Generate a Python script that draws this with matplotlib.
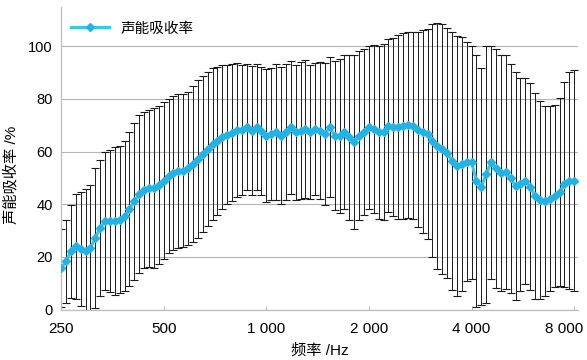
import matplotlib
matplotlib.use("Agg")  # no display
import matplotlib.pyplot as plt
from matplotlib.ticker import FixedLocator, FixedFormatter, NullLocator
from matplotlib.transforms import ScaledTranslation

plt.rcParams["font.family"] = ["Liberation Sans", "Noto Sans CJK SC", "DejaVu Sans"]

# 1/21-octave centre frequencies, 250 Hz .. 8 kHz
freqs = [
    250.0, 258.4, 267.1, 276.0, 285.3, 294.9, 304.7, 315.0, 325.6, 336.5, 347.8,
    359.4, 371.5, 384.0, 396.9, 410.2, 423.9, 438.2, 452.9, 468.1, 483.8,
    500.0, 516.8, 534.1, 552.0, 570.6, 589.7, 609.5, 630.0, 651.1, 673.0, 695.5,
    718.9, 743.0, 767.9, 793.7, 820.3, 847.9, 876.3, 905.7, 936.1, 967.5,
    1000.0, 1033.6, 1068.2, 1104.1, 1141.1, 1179.4, 1219.0, 1259.9, 1302.2, 1345.9, 1391.1,
    1437.7, 1486.0, 1535.9, 1587.4, 1640.7, 1695.7, 1752.6, 1811.4, 1872.2, 1935.1,
    2000.0, 2067.1, 2136.5, 2208.2, 2282.3, 2358.9, 2438.0, 2519.8, 2604.4, 2691.8, 2782.1,
    2875.5, 2972.0, 3071.7, 3174.8, 3281.3, 3391.5, 3505.3, 3622.9, 3744.5, 3870.1,
    4000.0, 4134.2, 4273.0, 4416.3, 4564.5, 4717.7, 4876.0, 5039.7, 5208.8, 5383.6, 5564.3,
    5750.9, 5943.9, 6143.4, 6349.6, 6562.6, 6782.9, 7010.5, 7245.8, 7488.9, 7740.2, 8000.0,
]

# mean absorption (%) and its standard deviation
absorption = [
    15.8, 18.3, 22.1, 24.0, 23.0, 22.4, 23.4, 27.2, 31.0, 33.6, 33.6,
    33.8, 34.2, 35.5, 38.3, 41.2, 43.8, 45.4, 46.0, 46.2, 47.2,
    48.9, 50.8, 51.8, 52.7, 52.7, 53.6, 55.3, 57.2, 59.1, 61.0,
    62.8, 64.2, 65.5, 66.5, 67.2, 68.3,
    68.3, 69.3, 68.0, 69.3, 68.0, 66.1, 66.7, 67.4, 66.1, 67.4,
    69.3, 67.4, 68.0, 68.6, 67.4, 68.6, 68.0, 66.7, 69.3, 66.1,
    65.9, 67.4, 65.5, 63.6, 66.1, 67.4, 69.3, 68.6, 67.4, 67.6,
    69.9, 69.3, 69.3, 69.9, 70.2, 69.9, 68.4, 67.6, 66.7, 64.2, 62.3,
    61.0, 59.5, 56.5, 54.6, 55.3, 56.1, 55.9, 48.9, 46.7, 51.4,
    55.9, 53.6, 51.8, 52.3, 49.8, 47.0, 47.6, 48.9, 46.7, 43.1,
    41.6, 41.2, 42.1, 43.1, 44.7, 47.6, 48.9, 48.9,
]
absorption_sd = [
    15.0, 15.9, 17.8, 20.0, 21.5, 23.5, 24.0, 26.5, 26.0, 26.1,
    27.1, 28.1, 28.0, 28.5, 29.2, 29.8, 30.0, 29.7, 29.7, 30.5,
    30.0, 29.8, 29.3, 29.2, 29.2, 29.1, 29.1, 29.7, 29.9, 29.8,
    29.3, 28.9, 28.1, 27.3, 26.3, 26.0, 25.5, 24.6, 24.0, 24.5,
    24.0, 24.3, 25.1, 25.2, 25.8, 26.0, 25.7, 25.3, 25.6, 25.9,
    26.1, 25.4, 25.2, 26.0, 26.9, 26.6, 28.4, 29.2, 29.2, 31.3,
    33.1, 32.0, 31.5, 31.0, 31.8, 32.9, 33.4, 32.8, 33.9, 34.9,
    35.3, 35.4, 35.6, 37.0, 38.5, 40.0, 44.4, 46.7, 47.4, 47.5,
    48.9, 49.3, 48.2, 45.4, 44.4, 47.8, 45.0, 48.9, 44.2, 45.3,
    44.8, 44.3, 43.6, 43.3, 40.4, 39.2, 39.4, 39.2, 37.6, 36.1,
    35.1, 34.6, 35.7, 38.9, 41.2, 42.0,
]

tick_freqs = [250, 500, 1000, 2000, 4000, 8000]
tick_labels = ["250", "500", "1 000", "2 000", "4 000", "8 000"]
y_ticks = [0, 20, 40, 60, 80, 100]

fig = plt.figure(figsize=(5.87, 3.6), dpi=100)
ax = fig.add_axes([0.104, 0.140, 0.881, 0.841])

ax.errorbar(freqs, absorption, yerr=absorption_sd, fmt="none",
            ecolor="#1a1a1a", elinewidth=0.7, capsize=3, capthick=0.8, zorder=2)
ax.plot(freqs, absorption, color="#35cbe8", linewidth=2.2, marker="D",
        markersize=4.4, markerfacecolor="#22b2e4", markeredgecolor="#22b2e4",
        label="声能吸收率", zorder=3)

ax.set_xscale("log")
ax.set_xlim(250, 8220)
ax.set_ylim(0, 115)
ax.xaxis.set_major_locator(FixedLocator(tick_freqs))
ax.xaxis.set_major_formatter(FixedFormatter(tick_labels))
ax.xaxis.set_minor_locator(NullLocator())
ax.set_yticks(y_ticks)

ax.grid(axis="y", color="#b4b4b4", linewidth=0.8)
ax.set_axisbelow(True)
for side in ("top", "right"):
    ax.spines[side].set_visible(False)
for side in ("left", "bottom"):
    ax.spines[side].set_color("#bdbdbd")
    ax.spines[side].set_linewidth(0.9)

ax.tick_params(axis="x", direction="in", length=3, color="#bdbdbd",
               labelsize=11, pad=9)
ax.tick_params(axis="y", length=0, labelsize=10.5, pad=6)

# last frequency label sits a little left so it stays inside the figure
last = ax.get_xticklabels()[-1]
last.set_transform(last.get_transform() + ScaledTranslation(-0.10, 0, fig.dpi_scale_trans))

ax.set_xlabel("频率 /Hz", fontsize=11, labelpad=5)
ax.set_ylabel("声能吸收率 /%", fontsize=11)
ax.yaxis.set_label_coords(-0.083, 0.445)

ax.legend(loc="upper left", bbox_to_anchor=(0.0, 0.985), frameon=False,
          fontsize=10.5, handlelength=2.6, borderaxespad=0.3)

fig.savefig("out.png", dpi=100)
plt.close(fig)
